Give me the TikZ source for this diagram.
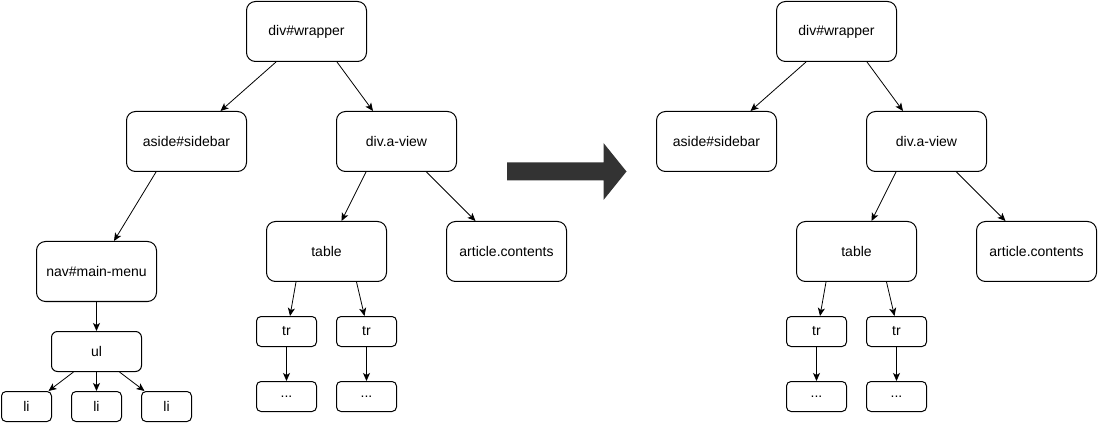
\documentclass[tikz,border=0pt]{standalone}
\usepackage{fontspec}
\setmainfont{Liberation Sans}
\usetikzlibrary{arrows.meta}
\begin{document}
\begin{tikzpicture}[x=1pt,y=-1pt,
  box/.style={draw=black, line width=1pt, fill=white, inner sep=0pt, font=\fontsize{14}{16}\selectfont, text=black},
  bigbox/.style={box, rounded corners=9pt, minimum width=120pt, minimum height=60pt},
  ulbox/.style={box, rounded corners=6pt, minimum width=90pt, minimum height=40pt},
  libox/.style={box, rounded corners=4.5pt, minimum width=50pt, minimum height=30pt},
  trbox/.style={box, rounded corners=4.5pt, minimum width=60pt, minimum height=30pt},
  edge/.style={draw=black, line width=0.8pt, -{Stealth[length=8pt,width=7pt,inset=2pt]}},
  bigarrow/.style={fill=black!80, draw=none}
]
\useasboundingbox (0,0) rectangle (1099,427);

% ---------- left tree ----------
\node[bigbox] (lw) at (306.5,31.5) {div\#wrapper};
\node[bigbox] (la) at (186.5,141.5) {aside\#sidebar};
\node[bigbox] (lv) at (396.5,141.5) {div.a-view};
\node[bigbox] (ln) at (96.5,271.5) {nav\#main-menu};
\node[bigbox] (lt) at (326.5,251.5) {table};
\node[bigbox] (lc) at (506.5,251.5) {article.contents};
\node[ulbox] (lu) at (96.5,351.5) {ul};
\node[libox] (li1) at (26.5,406.5) {li};
\node[libox] (li2) at (96.5,406.5) {li};
\node[libox] (li3) at (166.5,406.5) {li};
\node[trbox] (ltr1) at (286.5,331.5) {tr};
\node[trbox] (ltr2) at (366.5,331.5) {tr};
\node[trbox] (ld1) at (286.5,396.5) {...};
\node[trbox] (ld2) at (366.5,396.5) {...};

\draw[edge] ([xshift=-30.5pt]lw.south) -- ([xshift=34pt]la.north);
\draw[edge] ([xshift=30.5pt]lw.south) -- ([xshift=-23.5pt]lv.north);
\draw[edge] ([xshift=-30.5pt]la.south) -- ([xshift=17.5pt]ln.north);
\draw[edge] ([xshift=-30.5pt]lv.south) -- ([xshift=15pt]lt.north);
\draw[edge] ([xshift=30pt]lv.south) -- ([xshift=-31pt]lc.north);
\draw[edge] (ln.south) -- (lu.north);
\draw[edge] ([xshift=-23pt]lu.south) -- ([xshift=22pt]li1.north);
\draw[edge] (lu.south) -- (li2.north);
\draw[edge] ([xshift=23pt]lu.south) -- ([xshift=-22pt]li3.north);
\draw[edge] ([xshift=-30.5pt]lt.south) -- ([xshift=3.5pt]ltr1.north);
\draw[edge] ([xshift=30pt]lt.south) -- ([xshift=-2pt]ltr2.north);
\draw[edge] (ltr1.south) -- (ld1.north);
\draw[edge] (ltr2.south) -- (ld2.north);

% ---------- big arrow ----------
\fill[bigarrow] (507,162.5) -- (603.5,162.5) -- (603.5,143) -- (626.5,171.5)
  -- (603.5,200) -- (603.5,180.5) -- (507,180.5) -- cycle;

% ---------- right tree ----------
\node[bigbox] (rw) at (836.5,31.5) {div\#wrapper};
\node[bigbox] (ra) at (716.5,141.5) {aside\#sidebar};
\node[bigbox] (rv) at (926.5,141.5) {div.a-view};
\node[bigbox] (rt) at (856.5,251.5) {table};
\node[bigbox] (rc) at (1036.5,251.5) {article.contents};
\node[trbox] (rtr1) at (816.5,331.5) {tr};
\node[trbox] (rtr2) at (896.5,331.5) {tr};
\node[trbox] (rd1) at (816.5,396.5) {...};
\node[trbox] (rd2) at (896.5,396.5) {...};

\draw[edge] ([xshift=-30.5pt]rw.south) -- ([xshift=34pt]ra.north);
\draw[edge] ([xshift=30.5pt]rw.south) -- ([xshift=-23.5pt]rv.north);
\draw[edge] ([xshift=-30.5pt]rv.south) -- ([xshift=15pt]rt.north);
\draw[edge] ([xshift=30pt]rv.south) -- ([xshift=-31pt]rc.north);
\draw[edge] ([xshift=-30.5pt]rt.south) -- ([xshift=3.5pt]rtr1.north);
\draw[edge] ([xshift=30pt]rt.south) -- ([xshift=-2pt]rtr2.north);
\draw[edge] (rtr1.south) -- (rd1.north);
\draw[edge] (rtr2.south) -- (rd2.north);
\end{tikzpicture}
\end{document}
